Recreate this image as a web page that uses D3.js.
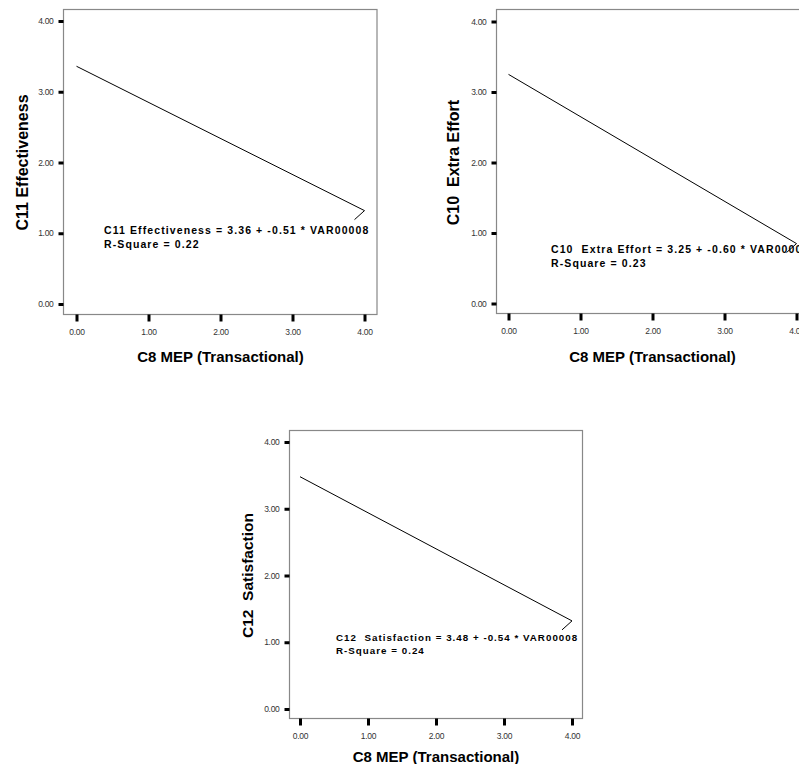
<html>
<head>
<meta charset="utf-8">
<script src="https://d3js.org/d3.v7.min.js"></script>
<style>
    body { margin: 0; background: #fff; }
    svg text { font-family: "Liberation Sans", Arial, sans-serif; }
    .tick line { stroke: #000; stroke-width: 3; }
    .tick text { fill: #333; font-size: 8.5px; letter-spacing: -0.3px; }
    .domain { display: none; }
</style>
</head>
<body>
<svg id="chart" width="799" height="764"></svg>
<script>
    // fitted lines, one per outcome
    const yLabels = ["C11 Effectiveness", "C10  Extra Effort", "C12  Satisfaction"];
    const xLabel = "C8 MEP (Transactional)";
    const predictor = "VAR00008";
    const intercepts = [3.36, 3.25, 3.48];
    const slopes = [-0.51, -0.60, -0.54];
    const rSquares = [0.22, 0.23, 0.24];
    const xRange = [0, 4];
    const xTicks = [0, 1, 2, 3, 4];
    const yTicks = [0, 1, 2, 3, 4];

    // where each panel sits on the page (the bottom one is drawn a bit smaller)
    const panels = [
        { frame: [63.5, 9.5, 377, 314.5], xr: [76.5, 364.5], yr: [304, 21], eq: [104, 234], yLab: 22, yLabSize: 16, xLabY: 362, k: 1 },
        { frame: [496.5, 9.5, 812, 313.5], xr: [508.5, 796.5], yr: [303.5, 21.5], eq: [551, 253], yLab: 453, yLabSize: 16, xLabY: 362, k: 1 },
        { frame: [289.5, 430.5, 582.5, 718.5], xr: [300, 572], yr: [709, 442], eq: [336, 641], yLab: 248, yLabSize: 15.5, xLabY: 762, k: 0.93 }
    ];

    const svg = d3.select("svg#chart");
    const fmt = v => v.toFixed(2);

    panels.forEach((p, i) => {
        const g = svg.append("g");
        const [l, t, r, b] = p.frame;

        const x = d3.scaleLinear().domain([0, 4]).range(p.xr);
        const y = d3.scaleLinear().domain([0, 4]).range(p.yr);

        g.append("rect")
            .attr("x", l).attr("y", t)
            .attr("width", r - l).attr("height", b - t)
            .attr("fill", "none")
            .attr("stroke", "#888")
            .attr("stroke-width", 1.2);

        g.append("g")
            .attr("transform", `translate(${l},0)`)
            .call(d3.axisLeft(y).tickValues(yTicks).tickFormat(fmt).tickSize(5).tickPadding(5));

        g.append("g")
            .attr("transform", `translate(0,${b})`)
            .call(d3.axisBottom(x).tickValues(xTicks).tickFormat(fmt).tickSize(7).tickPadding(7));

        // regression line
        const pts = xRange.map(v => [v, intercepts[i] + slopes[i] * v]);
        g.append("path")
            .attr("d", d3.line().x(d => x(d[0])).y(d => y(d[1]))(pts))
            .attr("fill", "none")
            .attr("stroke", "#000")
            .attr("stroke-width", 1);

        // leader from line end to the equation
        const end = pts[pts.length - 1];
        g.append("line")
            .attr("x1", x(end[0])).attr("y1", y(end[1]))
            .attr("x2", x(end[0]) - 10).attr("y2", y(end[1]) + 9)
            .attr("stroke", "#000").attr("stroke-width", 1);

        const eq = g.append("text")
            .attr("x", p.eq[0]).attr("y", p.eq[1])
            .style("font-size", (10.5 * p.k) + "px")
            .style("font-weight", "bold")
            .style("letter-spacing", (1.1 * p.k) + "px")
            .style("white-space", "pre");
        eq.append("tspan")
            .text(`${yLabels[i]} = ${fmt(intercepts[i])} + ${fmt(slopes[i])} * ${predictor}`);
        eq.append("tspan")
            .attr("x", p.eq[0]).attr("dy", 13.5 * p.k)
            .text(`R-Square = ${fmt(rSquares[i])}`);

        g.append("text")
            .attr("transform", `translate(${p.yLab},${(p.yr[0] + p.yr[1]) / 2}) rotate(-90)`)
            .attr("text-anchor", "middle")
            .attr("dy", "0.35em")
            .style("font-size", p.yLabSize + "px")
            .style("font-weight", "bold")
            .style("white-space", "pre")
            .text(yLabels[i]);

        g.append("text")
            .attr("x", (p.xr[0] + p.xr[1]) / 2)
            .attr("y", p.xLabY)
            .attr("text-anchor", "middle")
            .style("font-size", "15px")
            .style("font-weight", "bold")
            .text(xLabel);
    });
</script>
</body>
</html>
